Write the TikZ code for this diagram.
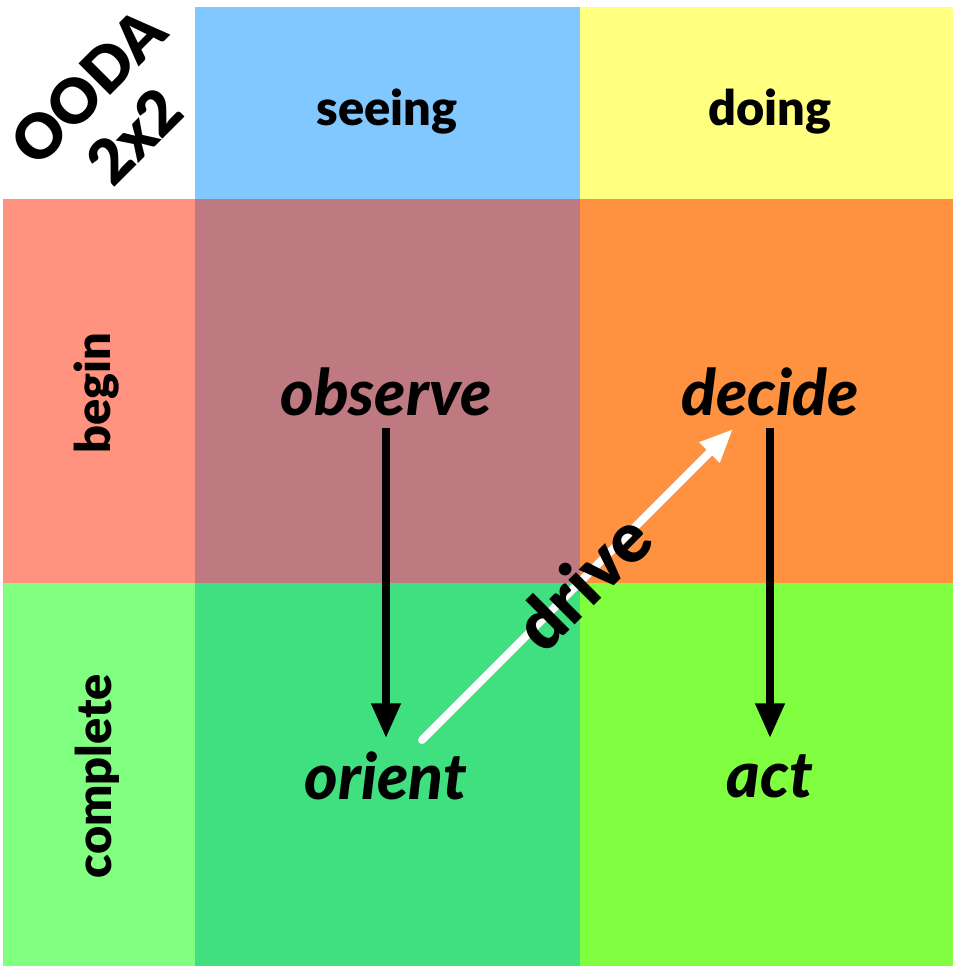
\documentclass[tikz,border=0pt]{standalone}
\usepackage{fontspec}
\setmainfont{Lato}[BoldFont={Lato Black}, BoldItalicFont={Lato Black Italic}]
\usetikzlibrary{arrows.meta,calc}
\definecolor{cblue}{HTML}{80C8FF}
\definecolor{cyellow}{HTML}{FFFF80}
\definecolor{csalmon}{HTML}{FF9380}
\definecolor{cmauve}{HTML}{BF7980}
\definecolor{corange}{HTML}{FF9240}
\definecolor{clgreen}{HTML}{80FF80}
\definecolor{ctgreen}{HTML}{40E080}
\definecolor{clime}{HTML}{80FF40}
\tikzset{
  head/.style={font=\fontsize{36.5}{40}\selectfont\bfseries, text=black, inner sep=0pt},
  verb/.style={font=\fontsize{48}{52}\selectfont\bfseries\itshape, text=black, inner sep=0pt},
  big/.style={font=\fontsize{46}{50}\selectfont\bfseries, text=black, inner sep=0pt, rotate=45},
  flow/.style={line width=5.5pt, -{Triangle[length=26pt,width=21pt]}},
}
\begin{document}
\begin{tikzpicture}[x=0.75pt,y=-0.75pt]
\useasboundingbox (0,0) rectangle (953,966);
% cells
\fill[cblue]   (195,7) rectangle (580,199);
\fill[cyellow] (580,7) rectangle (953,199);
\fill[csalmon] (3,199) rectangle (195,583);
\fill[cmauve]  (195,199) rectangle (580,583);
\fill[corange] (580,199) rectangle (953,583);
\fill[clgreen] (3,583) rectangle (195,966);
\fill[ctgreen] (195,583) rectangle (580,966);
\fill[clime]   (580,583) rectangle (953,966);
% headers
\node[big] (ooda) at (88,87) {OODA};
\node[big] (twobytwo) at (134,136) {2x2};
\node[head] (seeing) at (387,112) {seeing};
\node[head] (doing) at (770,112) {doing};
\node[head, rotate=90] (begin) at (97,393) {begin};
\node[head, rotate=90] (complete) at (97,776) {complete};
% verbs
\node[verb] (observe) at (386,392) {observe};
\node[verb] (decide) at (770,392) {decide};
\node[verb] (orient) at (386,776) {orient};
\node[verb] (act) at (770,776) {act};
% arrows
\coordinate (obsS) at (386,428);
\coordinate (oriN) at (386,738);
\coordinate (decS) at (770,428);
\coordinate (actN) at (770,738);
\coordinate (drA) at (422,740);
\coordinate (drB) at (733,429);
\draw[flow] (obsS) -- (oriN);
\draw[flow] (decS) -- (actN);
\draw[white, line width=6pt, line cap=round, -{Triangle[length=25pt,width=20pt]}] (drA) -- (drB);
\node[big, font=\fontsize{52}{56}\selectfont\bfseries] (drive) at ($(drA)!0.5!(drB)+(5,-3)$) {drive};
\end{tikzpicture}
\end{document}
